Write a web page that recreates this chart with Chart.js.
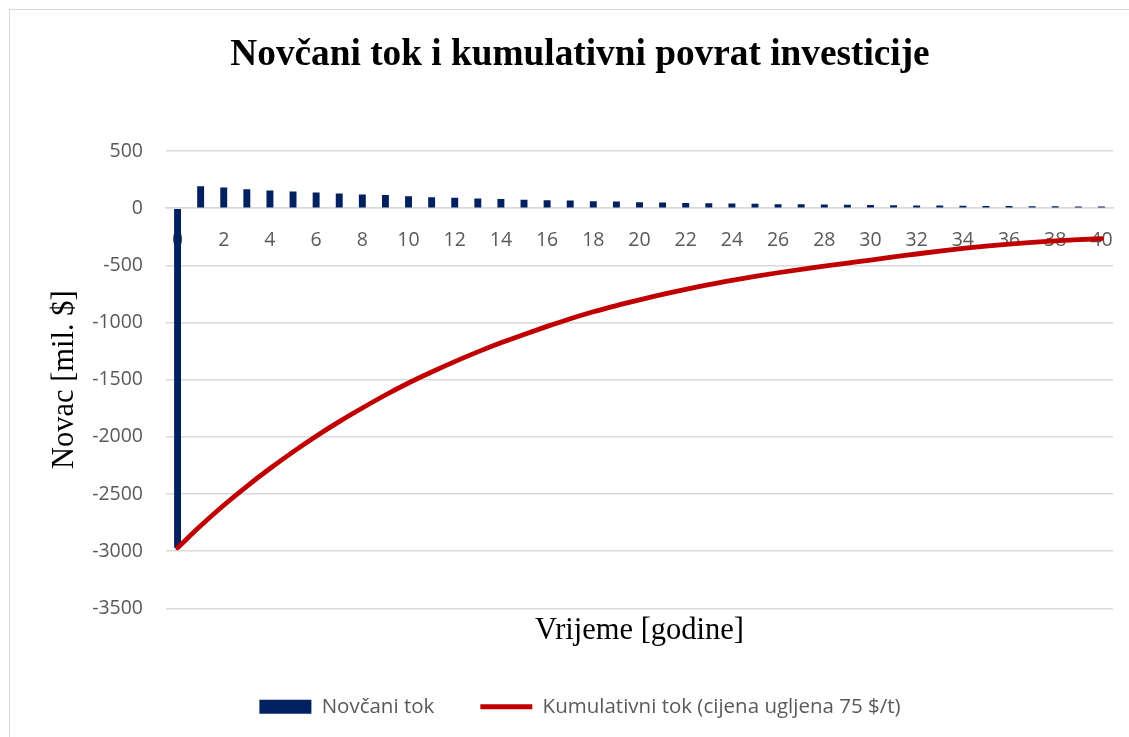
<!DOCTYPE html>
<html><head><meta charset="utf-8">
<script src="https://cdn.jsdelivr.net/npm/chart.js@4"></script>
<style>
html,body{margin:0;padding:0;background:#fff;overflow:hidden;width:1129px;height:737px}
#frame{position:absolute;left:9px;top:9px;width:1200px;height:800px;border:1.5px solid #d9d9d9;box-sizing:border-box}
#wrap{position:absolute;left:0;top:0;width:1129px;height:737px}
</style></head><body>
<div id="frame"></div>
<div id="wrap"><canvas id="c" width="1129" height="737"></canvas></div>
<script>
const years = ['0','1','2','3','4','5','6','7','8','9','10','11','12','13','14','15','16','17','18','19','20',
  '21','22','23','24','25','26','27','28','29','30','31','32','33','34','35','36','37','38','39','40'];
const cashFlow = [-2970,
  192,180,166,155,146,137,127,119,114,105,96,91,85,79,74,70,67,61,58,
  52,49,46,43,40,38,35,33,31,29,27,25,24,22,21,19,18,17,16,15,14];
const cumulative = [-2970,-2778,-2598,-2432,-2277,-2131,-1994,-1867,-1748,-1634,-1529,
  -1433,-1342,-1257,-1178,-1104,-1034,-967,-906,-852,-802,
  -754,-710,-669,-632,-597,-565,-535,-507,-480,-455,
  -427,-401,-375,-352,-332,-314,-299,-287,-276,-267];
const yTicks = [500,0,-500,-1000,-1500,-2000,-2500,-3000,-3500];
const xTickLabels = ['0','2','4','6','8','10','12','14','16','18','20','22','24','26','28','30','32','34','36','38','40'];

const titleText = 'Novčani tok i kumulativni povrat investicije';
const yTitle = 'Novac [mil. $]';
const xTitle = 'Vrijeme [godine]';
const seriesNames = ['Novčani tok','Kumulativni tok (cijena ugljena 75 $/t)'];

const gray = '#595959';
const tickFont = {family:'Open Sans', size:19.5};
const legendFont = {family:'Open Sans', size:20.5};
const serif = 'Liberation Serif';

new Chart(document.getElementById('c'), {
  data: {
    labels: years,
    datasets: [
      {type:'bar', label: seriesNames[0], data: cashFlow, backgroundColor:'#002060', borderWidth:0,
       barPercentage:0.3, categoryPercentage:1, order:2, pointStyle:'rect'},
      {type:'line', label: seriesNames[1], data: cumulative, borderColor:'#c00000', backgroundColor:'#c00000',
       borderWidth:4.8, pointRadius:0, cubicInterpolationMode:'monotone', borderCapStyle:'round',
       order:1, pointStyle:'line', fill:false}
    ]
  },
  options: {
    responsive:false, animation:false, devicePixelRatio:1,
    layout:{padding:{left:47, right:16, top:0, bottom:10}},
    plugins:{
      tooltip:{enabled:false},
      title:{display:true, text:titleText, color:'#000', font:{family:serif, size:37.3, weight:'bold'},
        padding:{top:33, bottom:73.2}},
      legend:{position:'bottom', align:'center',
        labels:{usePointStyle:true, pointStyleWidth:52, boxHeight:14, color:gray, font:legendFont, padding:46,
          sort:(a,b)=>a.datasetIndex-b.datasetIndex}}
    },
    scales:{
      x:{type:'category', position:{y:0}, offset:true,
        grid:{display:false, drawTicks:false},
        border:{display:true, color:'#d9d9d9', width:1.5},
        ticks:{color:gray, font:tickFont, padding:21, autoSkip:false, maxRotation:0,
          callback:function(v,i){ const l = years[i]; return xTickLabels.includes(l) ? l : ''; }},
        afterFit:function(s){ s.paddingLeft = 0; s.paddingRight = 0; }},
      x2:{type:'category', position:'bottom', labels: years, offset:true,
        grid:{display:false, drawTicks:false}, border:{display:false},
        ticks:{display:false},
        title:{display:true, text:xTitle, color:'#000', font:{family:serif, size:30.5}, padding:{top:4, bottom:1.5}}},
      y:{min:yTicks[yTicks.length-1], max:yTicks[0],
        grid:{color:'#d9d9d9', lineWidth:1.5, drawTicks:false},
        border:{display:false},
        ticks:{stepSize:500, color:gray, font:tickFont, padding:23, callback:v=>String(v)},
        title:{display:true, text:yTitle, color:'#000', font:{family:serif, size:30.5}, padding:{top:0, bottom:0}},
        afterFit:function(s){ s.width = 119; }}
    }
  }
});
</script>
</body></html>
